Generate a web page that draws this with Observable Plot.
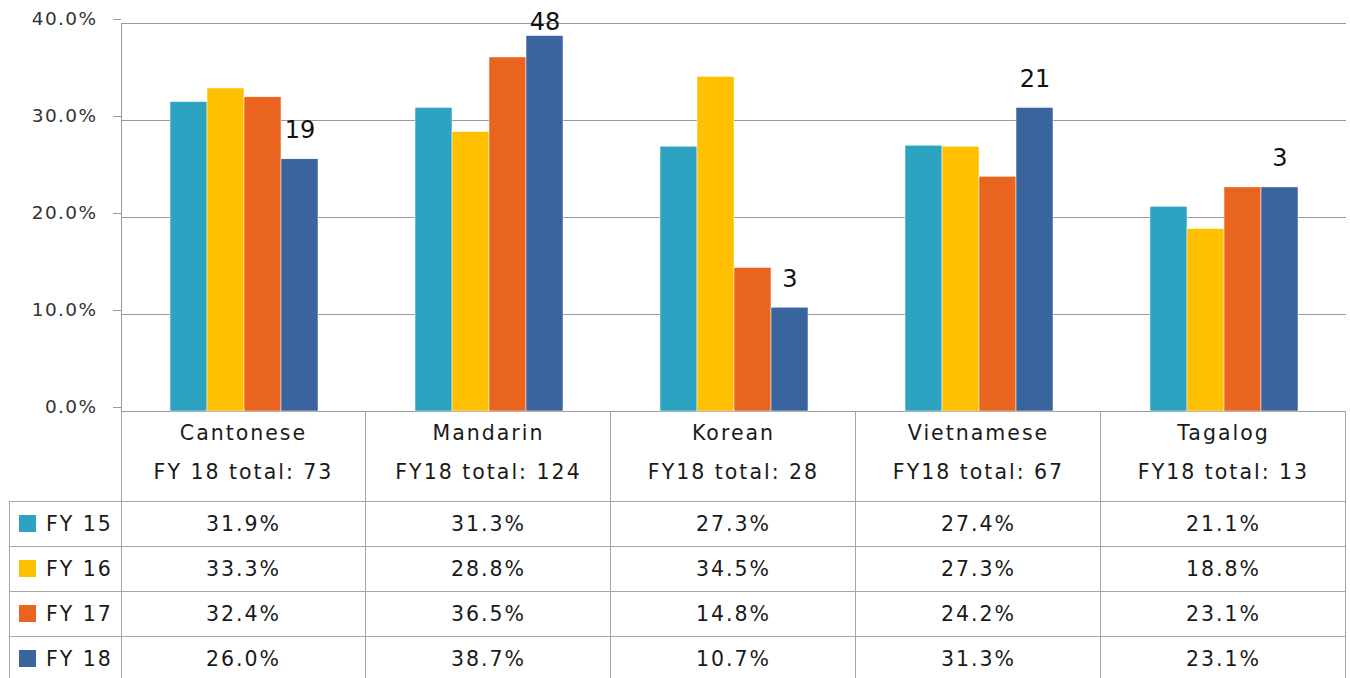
<!DOCTYPE html>
<html><head><meta charset="utf-8">
<script src="https://cdn.jsdelivr.net/npm/d3@7"></script>
<script src="https://cdn.jsdelivr.net/npm/@observablehq/plot@0.6"></script>
<style>
body{margin:0;background:#fff;font-family:"DejaVu Sans",sans-serif;}
#wrap{position:relative;width:1350px;height:678px;overflow:hidden;background:#fff;}
.t{position:absolute;font-size:20.5px;letter-spacing:2px;color:#1a1a1a;white-space:nowrap;transform:translate(-50%,-50%);line-height:1;}
.tl{position:absolute;font-size:20.5px;letter-spacing:2px;color:#1a1a1a;white-space:nowrap;transform:translate(0,-50%);line-height:1;}
.l{position:absolute;background:#a6a6a6;}
.sw{position:absolute;width:17px;height:17px;}
#wrap svg g[aria-label="y-axis tick label"] text{letter-spacing:1.4px;}
</style></head><body><div id="wrap"></div>
<script>
const categories = ["Cantonese","Mandarin","Korean","Vietnamese","Tagalog"];
const totalLabels = ["FY 18 total: 73","FY18 total: 124","FY18 total: 28","FY18 total: 67","FY18 total: 13"];
const series = ["FY 15","FY 16","FY 17","FY 18"];
const fy15 = [31.9,31.3,27.3,27.4,21.1];
const fy16 = [33.3,28.8,34.5,27.3,18.8];
const fy17 = [32.4,36.5,14.8,24.2,23.1];
const fy18 = [26.0,38.7,10.7,31.3,23.1];
const fy18Counts = [19,48,3,21,3];
const yTicks = [0,0.1,0.2,0.3,0.4];
const colors = ["#2ca3c0","#ffc000","#e9641e","#3a649d"];

const seriesValues = [fy15,fy16,fy17,fy18];
const rows = [];
series.forEach((s,i)=>categories.forEach((c,j)=>rows.push({category:c, series:s, value:seriesValues[i][j]/100})));
const labels = categories.map((c,j)=>({category:c, series:"FY 18", value:fy18[j]/100, count:fy18Counts[j]}));
const fmt = d3.format(".1%");

const plot = Plot.plot({
  width:1350, height:414, marginTop:23, marginBottom:3, marginLeft:119, marginRight:2,
  style:{fontFamily:"DejaVu Sans", background:"transparent", overflow:"visible"},
  fx:{domain:categories, padding:0, axis:null, label:null},
  x:{domain:series, padding:0, insetLeft:48.5, insetRight:48.5, axis:null, label:null},
  y:{domain:[0,0.4], axis:null, label:null},
  color:{domain:series, range:colors},
  marks:[
    Plot.gridY(yTicks, {stroke:"#999", strokeOpacity:1}),
    Plot.axisY(yTicks, {label:null, tickSize:8, tickPadding:16, tickFormat:fmt, fontSize:18.5, stroke:"#999", color:"#333", dy:-4}),
    Plot.frame({anchor:"left", facetAnchor:"left", stroke:"#999"}),
    Plot.barY(rows, {fx:"category", x:"series", y:"value", fill:"series", stroke:"white", strokeWidth:0.5}),
    Plot.text(labels.filter(d=>d.value<0.36), {fx:"category", x:"series", y:"value", text:"count", fontSize:24, fill:"#111", lineAnchor:"bottom", dy:-21}),
    Plot.text(labels.filter(d=>d.value>=0.36), {fx:"category", x:"series", y:"value", text:"count", fontSize:24, fill:"#111", lineAnchor:"bottom", dy:-6})
  ]
});
plot.style.position = "absolute";
plot.style.left = "0px";
plot.style.top = "0px";
const wrap = document.getElementById("wrap");
wrap.appendChild(plot);

const fx = plot.scale("fx"), ys = plot.scale("y");
const y0 = ys.apply(0);
const bw = fx.bandwidth;
const colX = categories.map(c=>fx.apply(c));
const headerH = 90, rowH = 45, leftX = 9, bottom = 678;
function line(x,y,w,h){const d=document.createElement("div");d.className="l";Object.assign(d.style,{left:x+"px",top:y+"px",width:w+"px",height:h+"px"});wrap.appendChild(d);}
function text(cls,x,y,s){const d=document.createElement("div");d.className=cls;d.textContent=s;Object.assign(d.style,{left:x+"px",top:y+"px"});wrap.appendChild(d);}
line(colX[0], y0, 1, bottom-y0);
colX.forEach(x=>line(x+bw-1, y0, 1, bottom-y0));
line(leftX, y0+headerH, 1, bottom-y0-headerH);
series.forEach((s,k)=>line(leftX, y0+headerH+k*rowH, colX[colX.length-1]+bw-leftX, 1));
categories.forEach((c,j)=>{
  const cx = colX[j]+bw/2;
  text("t", cx, y0+22, c);
  text("t", cx, y0+61, totalLabels[j]);
  series.forEach((s,k)=>text("t", cx, y0+headerH+k*rowH+22.5, fmt(seriesValues[k][j]/100)));
});
series.forEach((s,k)=>{
  const cy = y0+headerH+k*rowH+22.5;
  const sw=document.createElement("div");sw.className="sw";
  Object.assign(sw.style,{left:"19px",top:(cy-8.5)+"px",background:colors[k]});wrap.appendChild(sw);
  text("tl", 46, cy, s);
});
</script></body></html>
